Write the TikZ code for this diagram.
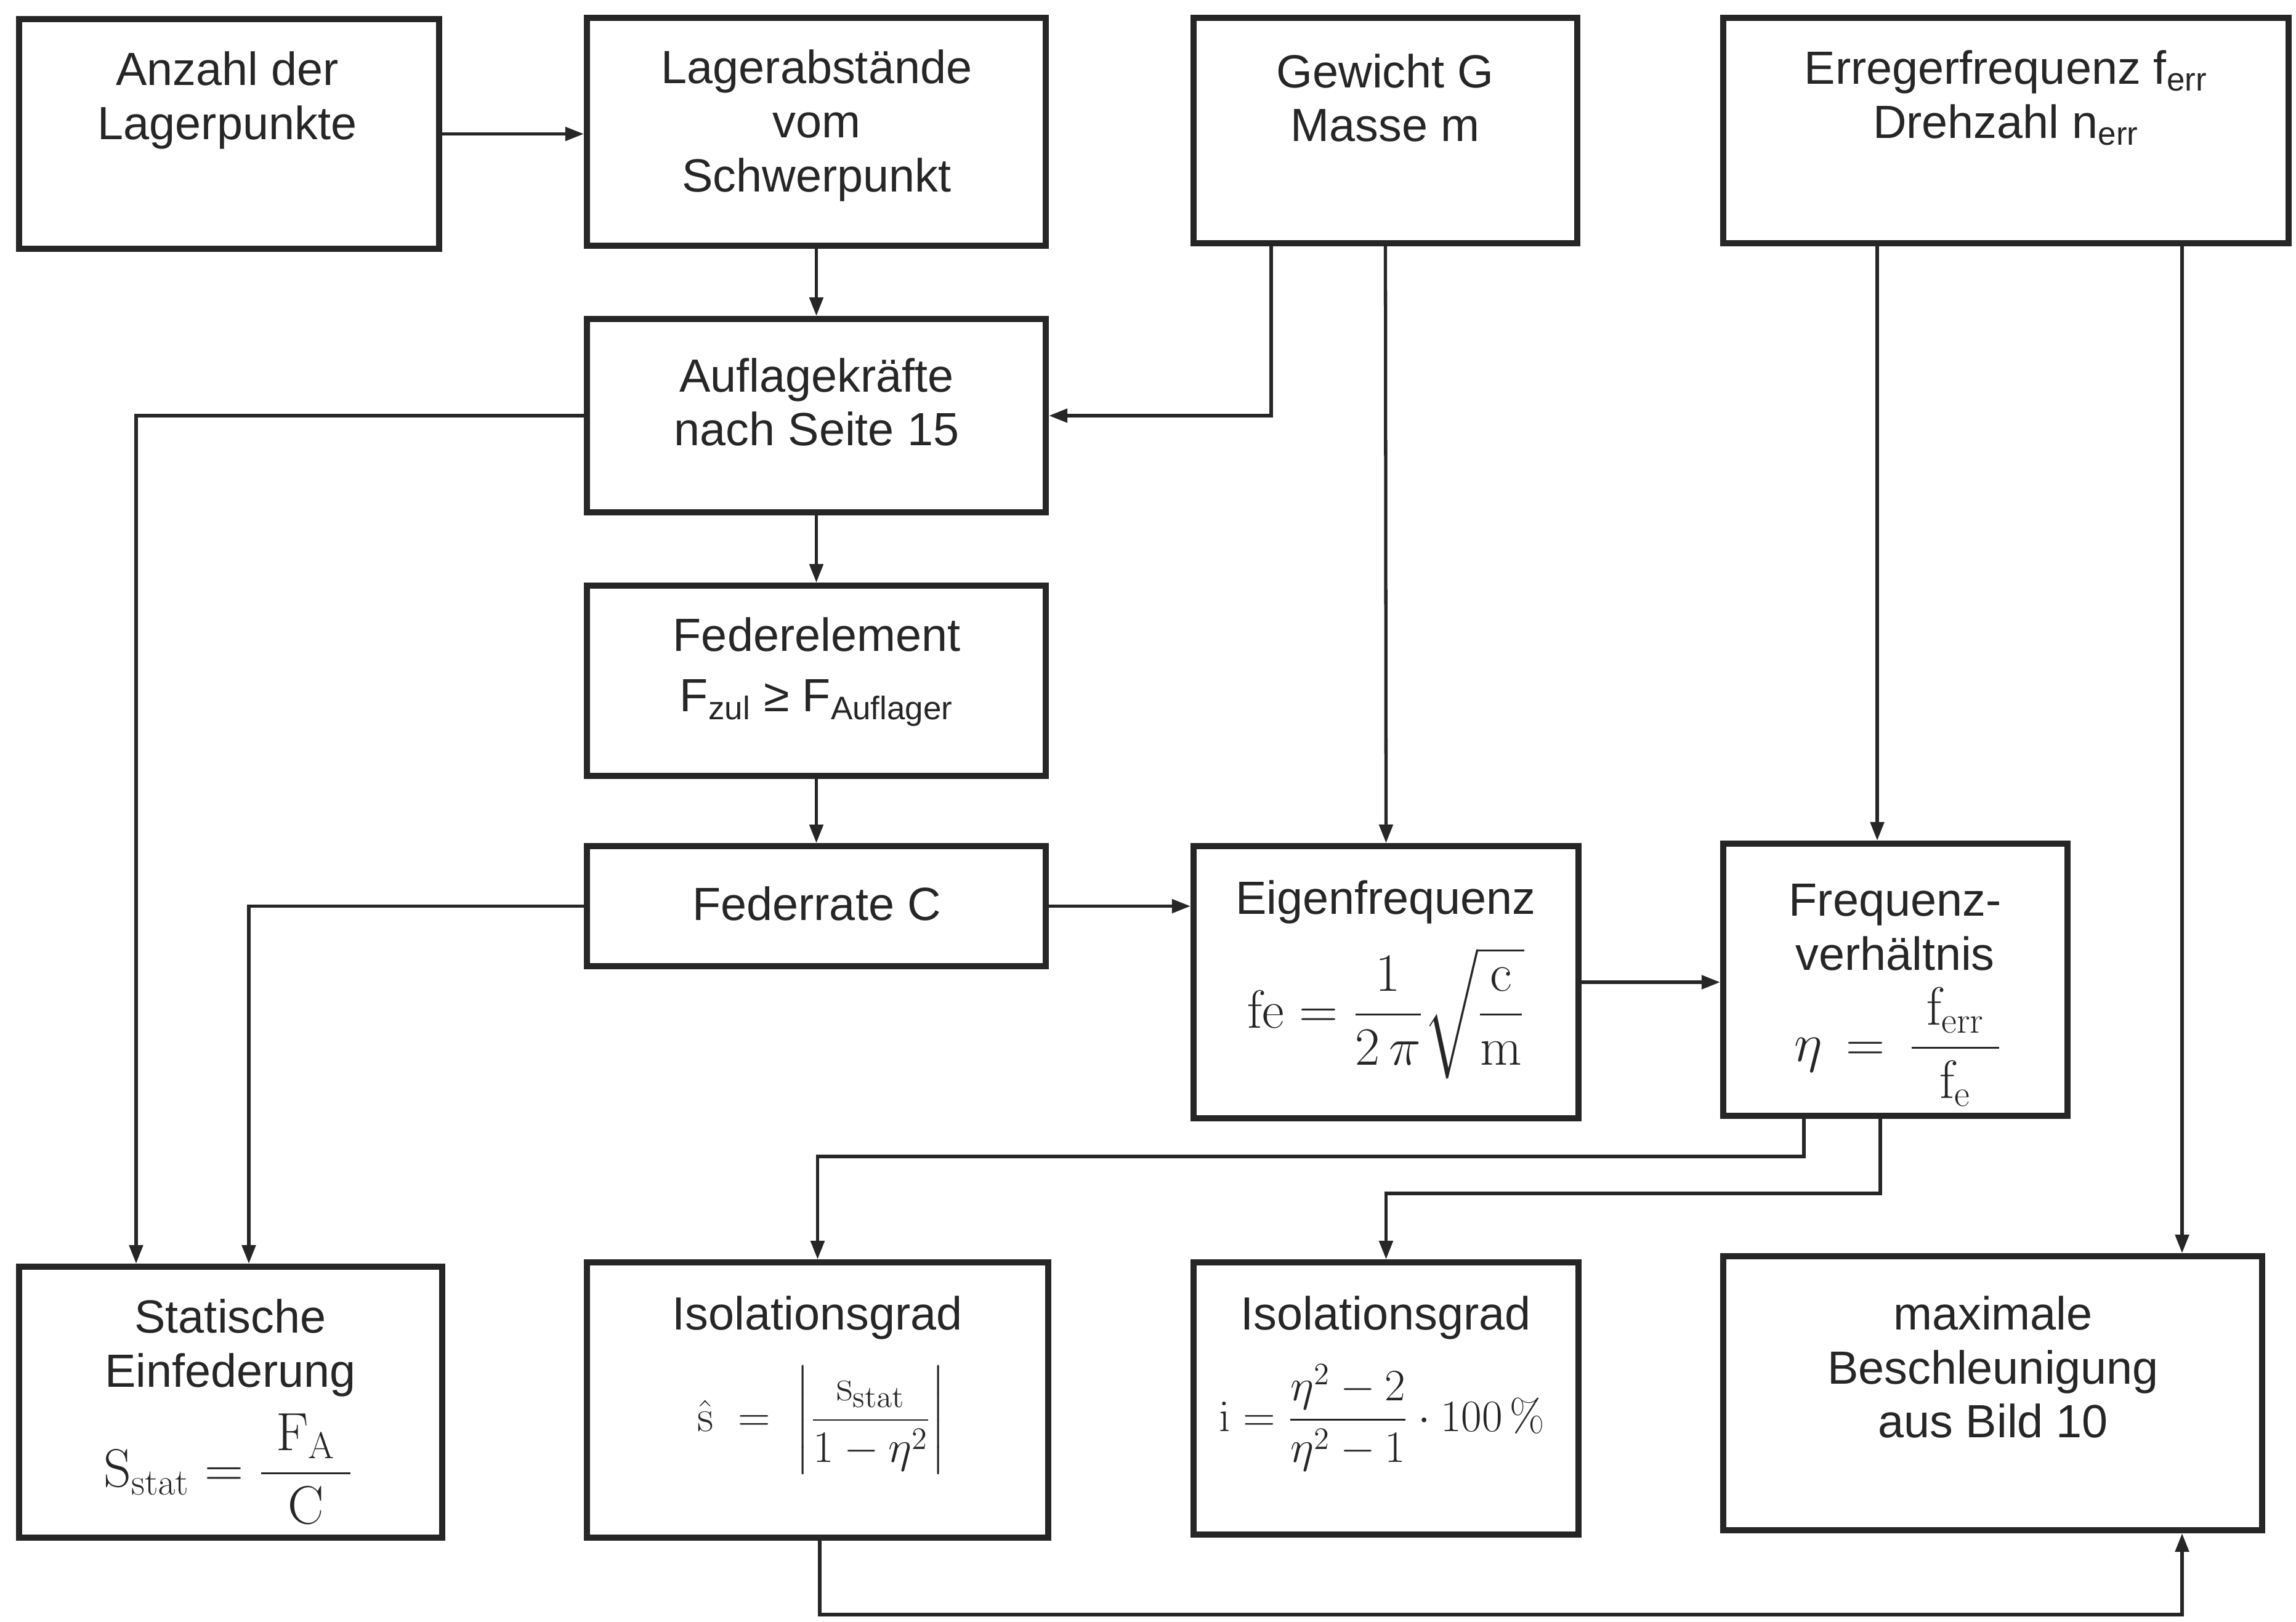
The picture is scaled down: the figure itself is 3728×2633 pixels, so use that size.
\documentclass[tikz,border=0pt]{standalone}
\usepackage{amsmath}
\usepackage[no-math]{fontspec}
\setmainfont{Liberation Sans}
\usetikzlibrary{arrows.meta}
\tikzset{
  box/.style={draw=black!85, line width=2.8pt, rectangle, inner sep=0pt, fill=white},
  txt/.style={font=\fontsize{21.5}{25}\selectfont, align=center, inner sep=0pt, text=black!85},
  frm/.style={font=\fontsize{22}{26}\selectfont, align=center, inner sep=0pt, text=black!85},
  frmbig/.style={font=\fontsize{24}{28}\selectfont, align=center, inner sep=0pt, text=black!85},
  conn/.style={draw=black!85, line width=1.5pt, -{Triangle[length=0.3cm,width=0.22cm]}},
}
\begin{document}
\begin{tikzpicture}[x=0.01cm,y=-0.01cm]
\path[use as bounding box, fill=white] (0,0) rectangle (3728,2633);

% boxes
\node[box, minimum width=6.82cm, minimum height=3.73cm] (anz) at (372,217.5) {};
\node[box, minimum width=7.45cm, minimum height=3.70cm] (lag) at (1325.5,214) {};
\node[box, minimum width=6.23cm, minimum height=3.66cm] (gew) at (2249.5,212) {};
\node[box, minimum width=9.18cm, minimum height=3.66cm] (err) at (3257,212) {};
\node[box, minimum width=7.45cm, minimum height=3.14cm] (auf) at (1325.5,675) {};
\node[box, minimum width=7.45cm, minimum height=3.09cm] (fed) at (1325.5,1105.5) {};
\node[box, minimum width=7.45cm, minimum height=1.95cm] (frt) at (1325.5,1471.5) {};
\node[box, minimum width=6.25cm, minimum height=4.42cm] (eig) at (2250.5,1595) {};
\node[box, minimum width=5.59cm, minimum height=4.42cm] (frq) at (3077.5,1591) {};
\node[box, minimum width=6.87cm, minimum height=4.40cm] (sta) at (374.5,2277) {};
\node[box, minimum width=7.49cm, minimum height=4.47cm] (is1) at (1327.5,2273.5) {};
\node[box, minimum width=6.25cm, minimum height=4.42cm] (is2) at (2250.5,2271) {};
\node[box, minimum width=8.75cm, minimum height=4.45cm] (max) at (3235.5,2262.5) {};

% texts
\node[txt] (tanz) at (369,163) {Anzahl der\\Lagerpunkte};
\node[txt] (tlag) at (1326,204) {Lagerabstände\\vom\\Schwerpunkt};
\node[txt] (tgew) at (2249,159) {Gewicht G\\Masse m};
\node[txt] (terr) at (3257,159) {Erregerfrequenz f\textsubscript{err}\\Drehzahl n\textsubscript{err}};
\node[txt] (tauf) at (1326,653) {Auflagekräfte\\nach Seite 15};
\node[txt] (tfed) at (1326,1091) {Federelement\\[3pt]F\textsubscript{zul} ≥ F\textsubscript{Auflager}};
\node[txt] (tfrt) at (1326,1467) {Federrate C};
\node[txt] (teig) at (2250,1465) {Eigenfrequenz};
\node[frmbig] (feig) at (2250,1645) {$\mathrm{fe} = \dfrac{1}{2\,\pi}\sqrt{\dfrac{\mathrm{c}}{\mathrm{m}}}$};
\node[txt] (tfrq) at (3077,1506) {Frequenz-\\verhältnis};
\node[frmbig] (ffrq) at (3082,1700) {$\eta \,=\, \dfrac{\;\mathrm{f}_{\mathrm{err}}\;}{\mathrm{f}_{\mathrm{e}}}$};
\node[txt] (tsta) at (374,2189) {Statische\\Einfederung};
\node[frmbig] (fsta) at (371,2385) {$\mathrm{S}_{\mathrm{stat}} = \dfrac{\;\mathrm{F}_{\mathrm{A}}\;}{\mathrm{C}}$};
\node[txt] (tis1) at (1327,2140) {Isolationsgrad};
\node[frm] (fis1) at (1334,2306) {$\hat{\mathrm{s}} \;=\; \left|\dfrac{\mathrm{s}_{\mathrm{stat}}}{1-\eta^{2}}\right|$};
\node[txt] (tis2) at (2250,2140) {Isolationsgrad};
\node[frm] (fis2) at (2244,2302) {$\mathrm{i} = \dfrac{\eta^{2}-2}{\eta^{2}-1}\cdot 100\,\%$};
\node[txt] (tmax) at (3236,2220) {maximale\\Beschleunigung\\aus Bild 10};

% helper coordinates
\coordinate (xg) at (2064,0);
\coordinate (xe1) at (3048,0);
\coordinate (xe2) at (3543,0);
\coordinate (xa) at (221,0);
\coordinate (xf) at (404,0);
\coordinate (q1) at (2929,1878);
\coordinate (q2) at (3053,1938);
\coordinate (b1) at (1331,2622);

% connectors
\draw[conn] (anz.east) -- (anz.east -| lag.west);
\draw[conn] (lag.south) -- (auf.north);
\draw[conn] (gew.south -| xg) |- (auf.east);
\draw[conn] (gew.south) -- (eig.north);
\draw[conn] (err.south -| xe1) -- (frq.north -| xe1);
\draw[conn] (err.south -| xe2) -- (max.north -| xe2);
\draw[conn] (auf.west) -| (sta.north -| xa);
\draw[conn] (auf.south) -- (fed.north);
\draw[conn] (fed.south) -- (frt.north);
\draw[conn] (frt.west) -| (sta.north -| xf);
\draw[conn] (frt.east) -- (frt.east -| eig.west);
\draw[conn] (eig.east) -- (eig.east -| frq.west);
\draw[conn] (frq.south -| q1) -- (q1) -| (is1.north);
\draw[conn] (frq.south -| q2) -- (q2) -| (is2.north);
\draw[conn] (is1.south -| b1) -- (b1) -| (max.south -| xe2);
\end{tikzpicture}
\end{document}
